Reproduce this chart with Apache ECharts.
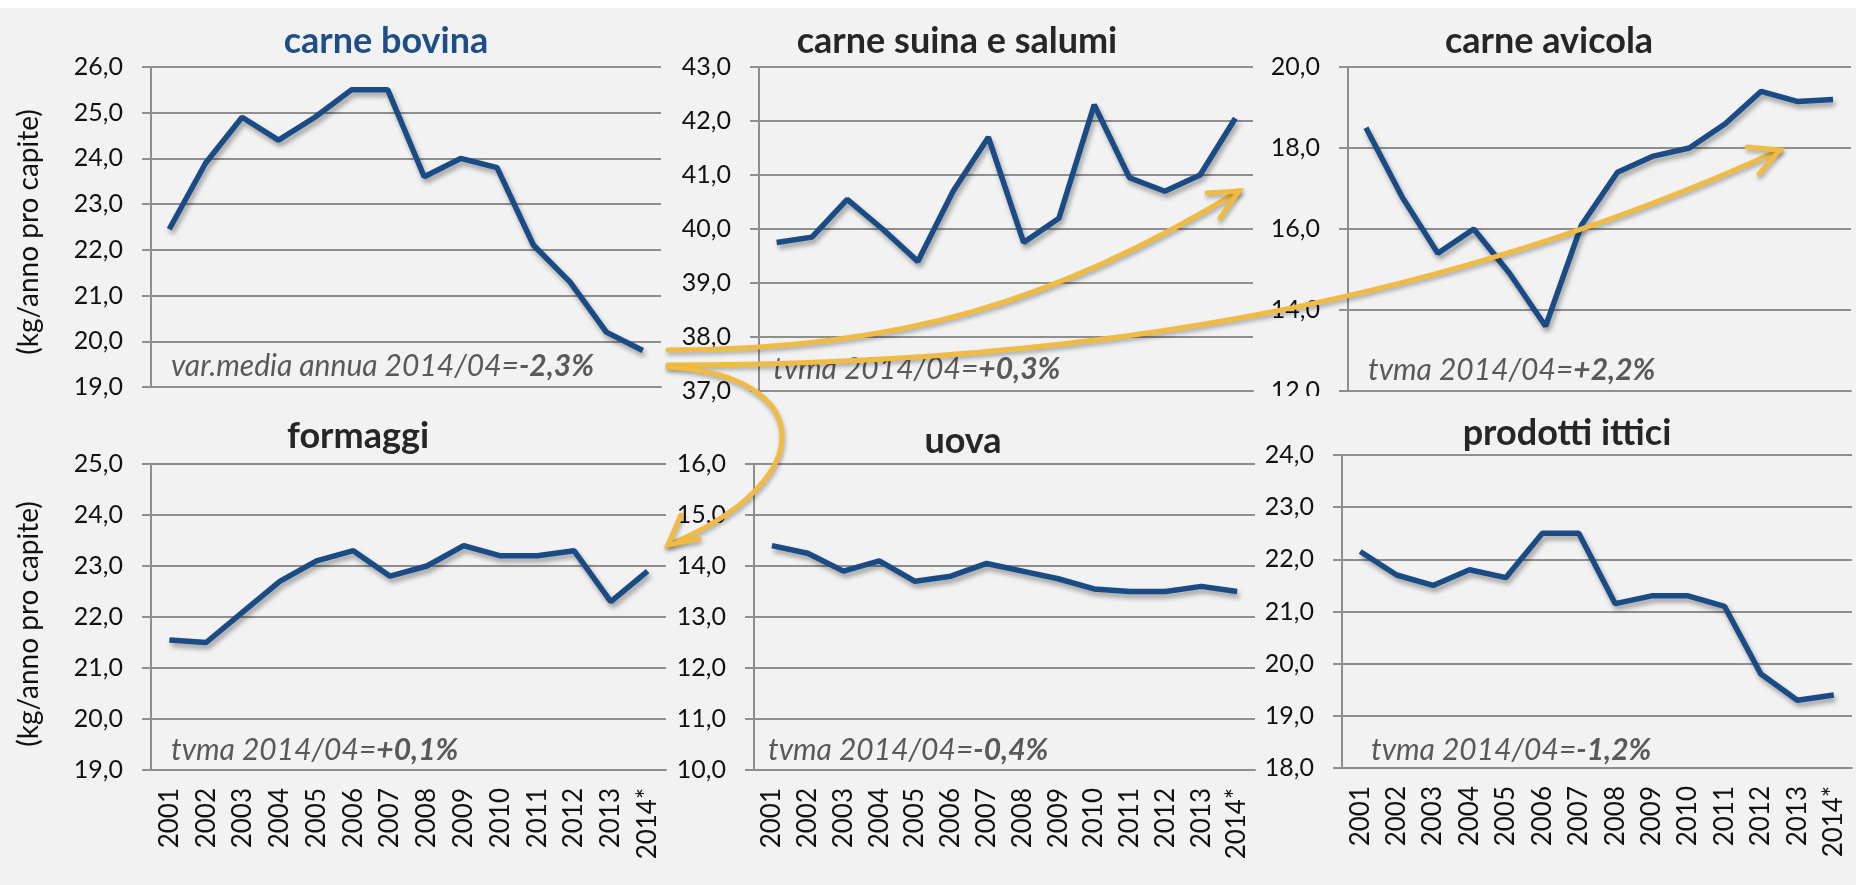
<!DOCTYPE html>
<html>
<head>
<meta charset="utf-8">
<script src="https://cdn.jsdelivr.net/npm/echarts@6/dist/echarts.min.js"></script>
<style>
  html, body { margin: 0; padding: 0; background: #fff; }
  #main { width: 1856px; height: 885px; }
</style>
</head>
<body>
<div id="main"></div>
<script>
let myChart = echarts.init(document.getElementById('main'))

// categorie (anni)
const years = ['2001', '2002', '2003', '2004', '2005', '2006', '2007', '2008', '2009', '2010', '2011', '2012', '2013', '2014*']

// consumi kg/anno pro capite
const bovina = [22.45, 23.9, 24.9, 24.4, 24.9, 25.5, 25.5, 23.6, 24.0, 23.8, 22.1, 21.3, 20.2, 19.8]
const suina = [39.75, 39.85, 40.55, 40.0, 39.4, 40.7, 41.7, 39.75, 40.2, 42.3, 40.95, 40.7, 41.0, 42.05]
const avicola = [18.5, 16.8, 15.4, 16.0, 14.9, 13.6, 16.1, 17.4, 17.8, 18.0, 18.6, 19.4, 19.15, 19.2]
const formaggi = [21.55, 21.5, 22.1, 22.7, 23.1, 23.3, 22.8, 23.0, 23.4, 23.2, 23.2, 23.3, 22.3, 22.9]
const uova = [14.4, 14.25, 13.9, 14.1, 13.7, 13.8, 14.05, 13.9, 13.75, 13.55, 13.5, 13.5, 13.6, 13.5]
const ittici = [22.15, 21.7, 21.5, 21.8, 21.65, 22.5, 22.5, 21.15, 21.3, 21.3, 21.1, 19.8, 19.3, 19.4]

// titoli e note
const titles = ['carne bovina', 'carne suina e salumi', 'carne avicola', 'formaggi', 'uova', 'prodotti ittici']
const notes = ['var.media annua 2014/04=', 'tvma 2014/04=', 'tvma 2014/04=', 'tvma 2014/04=', 'tvma 2014/04=', 'tvma 2014/04=']
const rates = ['-2,3%', '+0,3%', '+2,2%', '+0,1%', '-0,4%', '-1,2%']

// scale degli assi y
const yMin = [19, 37, 12, 19, 10, 18]
const yMax = [26, 43, 20, 25, 16, 24]
const yStep = [1, 1, 2, 1, 1, 1]

const allData = [bovina, suina, avicola, formaggi, uova, ittici]

// posizione dei sei pannelli
const panels = [
  { left: 151, top: 67, width: 510, height: 320, tx: 386, ty: 41, nx: 171, ny: 366 },
  { left: 759, top: 67, width: 494, height: 324, tx: 957, ty: 41, nx: 773, ny: 369 },
  { left: 1348, top: 67, width: 503, height: 324, tx: 1549, ty: 41, nx: 1368, ny: 370 },
  { left: 151, top: 464, width: 515, height: 306, tx: 358, ty: 436, nx: 171, ny: 750 },
  { left: 754, top: 464, width: 501, height: 306, tx: 963, ty: 441, nx: 768, ny: 750 },
  { left: 1342, top: 455, width: 510, height: 313, tx: 1567, ty: 433, nx: 1371, ny: 750 }
]

const FONT = 'Lato'
const gridColor = '#8e8e8e'
const lineColor = '#1a4b85'
const arrowColor = '#f0bb43'

let grids = [], xAxes = [], yAxes = [], series = [], graphics = []

panels.forEach((p, i) => {
  grids.push({ left: p.left, top: p.top, width: p.width, height: p.height })
  xAxes.push({
    type: 'category',
    gridIndex: i,
    data: years,
    boundaryGap: true,
    axisLine: { lineStyle: { color: gridColor, width: 2 } },
    axisTick: { length: 8, lineStyle: { color: gridColor, width: 2 } },
    axisLabel: {
      show: i >= 3,
      rotate: 90,
      margin: 18,
      fontFamily: FONT,
      fontSize: 26,
      color: '#111'
    }
  })
  yAxes.push({
    type: 'value',
    gridIndex: i,
    min: yMin[i],
    max: yMax[i],
    interval: yStep[i],
    axisLine: { show: true, lineStyle: { color: gridColor, width: 2 } },
    axisTick: { show: true, length: 9, lineStyle: { color: gridColor, width: 2 } },
    splitLine: { lineStyle: { color: gridColor, width: 2 } },
    axisLabel: {
      margin: 28,
      fontFamily: FONT,
      fontSize: 25,
      color: '#111',
      formatter: v => v.toFixed(1).replace('.', ',')
    }
  })
  series.push({
    type: 'line',
    xAxisIndex: i,
    yAxisIndex: i,
    data: allData[i],
    symbol: 'none',
    lineStyle: {
      color: lineColor,
      width: 5.5,
      shadowColor: 'rgba(0,0,0,0.35)',
      shadowBlur: 5,
      shadowOffsetX: 2,
      shadowOffsetY: 4
    },
    z: 3
  })
  // titolo
  graphics.push({
    type: 'text',
    x: p.tx, y: p.ty,
    z: 50,
    style: {
      text: titles[i],
      align: 'center',
      verticalAlign: 'middle',
      fontFamily: FONT,
      fontWeight: 'bold',
      fontSize: 36,
      fill: i === 0 ? '#1f4e87' : '#262626'
    }
  })
  // nota tasso medio
  graphics.push({
    type: 'text',
    x: p.nx, y: p.ny,
    z: 50,
    style: {
      text: '{a|' + notes[i] + '}{b|' + rates[i] + '}',
      verticalAlign: 'middle',
      rich: {
        a: { fontFamily: FONT, fontStyle: 'italic', fontSize: 30, fill: '#595959' },
        b: { fontFamily: FONT, fontStyle: 'italic', fontWeight: 'bold', fontSize: 30, fill: '#595959' }
      }
    }
  })
})

// nome asse y (solo colonna sinistra)
const yName = '(kg/anno pro capite)'
;[232, 624].forEach(cy => {
  graphics.push({
    type: 'text',
    x: 29, y: cy,
    rotation: Math.PI / 2,
    z: 50,
    style: {
      text: yName,
      align: 'center',
      verticalAlign: 'middle',
      fontFamily: FONT,
      fontSize: 28,
      fill: '#111'
    }
  })
})

// fascia bianca in alto e taglio dell'etichetta 12,0
graphics.push({ type: 'rect', shape: { x: 0, y: 0, width: 1856, height: 8 }, style: { fill: '#fff' }, z: 60 })
graphics.push({ type: 'rect', shape: { x: 1262, y: 396, width: 70, height: 30 }, style: { fill: '#f2f2f2' }, z: 60 })

// frecce gialle
const arrowStyle = {
  stroke: arrowColor,
  lineWidth: 5,
  fill: 'none',
  lineCap: 'round',
  shadowColor: 'rgba(0,0,0,0.3)',
  shadowBlur: 4,
  shadowOffsetX: 1,
  shadowOffsetY: 3
}
graphics.push({
  type: 'bezierCurve', z: 70,
  shape: { x1: 668, y1: 350, cpx1: 900, cpy1: 350, cpx2: 1060, cpy2: 300, x2: 1239, y2: 191 },
  style: arrowStyle
})
graphics.push({
  type: 'polyline', z: 70,
  shape: { points: [[1207, 193], [1239, 191], [1220, 218]] },
  style: arrowStyle
})
graphics.push({
  type: 'bezierCurve', z: 70,
  shape: { x1: 668, y1: 365, cpx1: 1100, cpy1: 365, cpx2: 1450, cpy2: 300, x2: 1780, y2: 150 },
  style: arrowStyle
})
graphics.push({
  type: 'polyline', z: 70,
  shape: { points: [[1747, 147], [1780, 150], [1759, 174]] },
  style: arrowStyle
})
graphics.push({
  type: 'bezierCurve', z: 70,
  shape: { x1: 668, y1: 367, cpx1: 815, cpy1: 375, cpx2: 825, cpy2: 480, x2: 668, y2: 545 },
  style: arrowStyle
})
graphics.push({
  type: 'polyline', z: 70,
  shape: { points: [[681, 515], [668, 545], [699, 539]] },
  style: arrowStyle
})

let opt = {
  backgroundColor: '#f2f2f2',
  animation: false,
  grid: grids,
  xAxis: xAxes,
  yAxis: yAxes,
  series: series,
  graphic: graphics
}

myChart.setOption(opt)
</script>
</body>
</html>
